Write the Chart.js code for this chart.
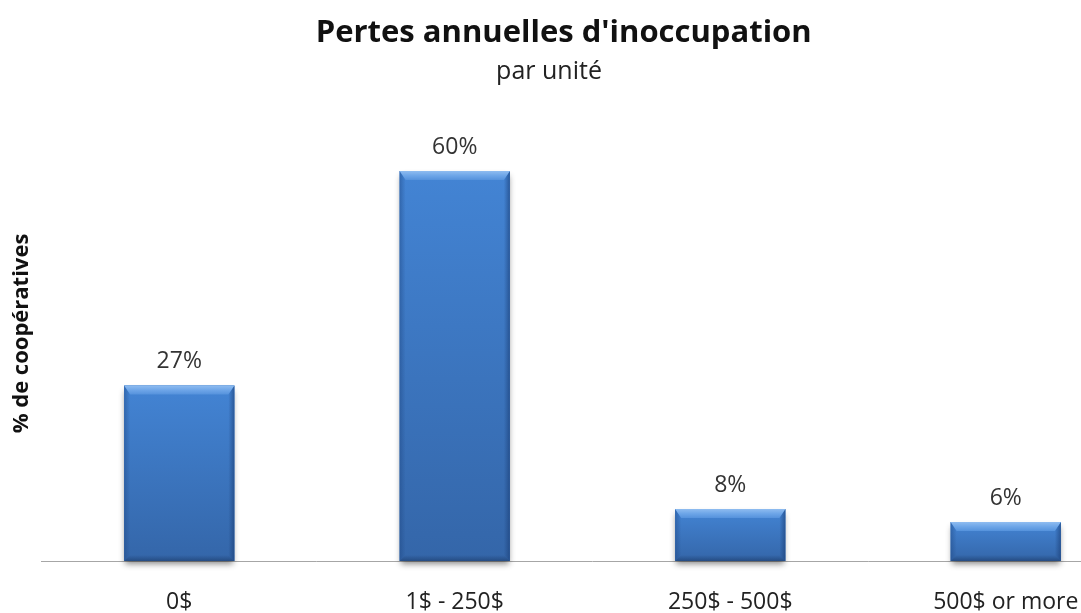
<!DOCTYPE html>
<html>
<head>
<meta charset="utf-8">
<script src="https://cdn.jsdelivr.net/npm/chart.js@4"></script>
<style>
  html, body { margin: 0; padding: 0; background: #ffffff; overflow: hidden; }
  #wrap { width: 1145px; height: 613px; position: relative; }
</style>
</head>
<body>
<div id="wrap"><canvas id="c"></canvas></div>
<script>
const categories = ["0$", "1$ - 250$", "250$ - 500$", "500$ or more"];
const values = [27, 60, 8, 6];
const titleText = "Pertes annuelles d'inoccupation  ";
const subtitleText = "par unité       ";
const yTitle = "% de coopératives";

const FONT = "'Open Sans', Lato, sans-serif";

function barBox(bar) {
  const w = bar.width;
  return { l: bar.x - w / 2, r: bar.x + w / 2, t: bar.y, b: bar.base };
}

const shadowPlugin = {
  id: 'barShadow',
  beforeDatasetsDraw(chart) {
    const ctx = chart.ctx;
    const meta = chart.getDatasetMeta(0);
    meta.data.forEach((bar) => {
      const { l, r, t, b } = barBox(bar);
      ctx.save();
      ctx.shadowColor = 'rgba(0,0,0,0.45)';
      ctx.shadowBlur = 6;
      ctx.shadowOffsetY = 3;
      ctx.fillStyle = '#3a70b8';
      ctx.fillRect(l + 1, t + 2, r - l - 2, b - t - 2);
      ctx.restore();
    });
  }
};

const bevelPlugin = {
  id: 'bevel',
  afterDatasetsDraw(chart) {
    const ctx = chart.ctx;
    const meta = chart.getDatasetMeta(0);
    meta.data.forEach((bar) => {
      const { l, r, t, b } = barBox(bar);
      const h = b - t;
      const bt = Math.min(9, h / 3), bs = 6, bb = 6;
      ctx.save();
      let g = ctx.createLinearGradient(0, t, 0, b);
      g.addColorStop(0, '#4384d4');
      g.addColorStop(1, '#3466a9');
      ctx.fillStyle = g;
      ctx.fillRect(l, t, r - l, h);
      g = ctx.createLinearGradient(l, 0, l + bs, 0);
      g.addColorStop(0, 'rgba(30,70,130,0.45)');
      g.addColorStop(1, 'rgba(30,70,130,0.0)');
      ctx.fillStyle = g;
      ctx.beginPath();
      ctx.moveTo(l, t); ctx.lineTo(l + bs, t + bt); ctx.lineTo(l + bs, b - bb); ctx.lineTo(l, b); ctx.closePath();
      ctx.fill();
      g = ctx.createLinearGradient(r, 0, r - bs, 0);
      g.addColorStop(0, 'rgba(25,60,115,0.6)');
      g.addColorStop(1, 'rgba(25,60,115,0.0)');
      ctx.fillStyle = g;
      ctx.beginPath();
      ctx.moveTo(r, t); ctx.lineTo(r - bs, t + bt); ctx.lineTo(r - bs, b - bb); ctx.lineTo(r, b); ctx.closePath();
      ctx.fill();
      g = ctx.createLinearGradient(0, b, 0, b - bb);
      g.addColorStop(0, 'rgba(25,55,100,0.55)');
      g.addColorStop(1, 'rgba(25,55,100,0.0)');
      ctx.fillStyle = g;
      ctx.beginPath();
      ctx.moveTo(l, b); ctx.lineTo(r, b); ctx.lineTo(r - bs, b - bb); ctx.lineTo(l + bs, b - bb); ctx.closePath();
      ctx.fill();
      g = ctx.createLinearGradient(0, t, 0, t + bt);
      g.addColorStop(0, '#8fbcf0');
      g.addColorStop(0.5, '#6ea6e8');
      g.addColorStop(1, '#5592dc');
      ctx.fillStyle = g;
      ctx.beginPath();
      ctx.moveTo(l, t); ctx.lineTo(r, t); ctx.lineTo(r - bs, t + bt); ctx.lineTo(l + bs, t + bt); ctx.closePath();
      ctx.fill();
      ctx.restore();
    });
  }
};

const labelPlugin = {
  id: 'valueLabels',
  afterDatasetsDraw(chart) {
    const ctx = chart.ctx;
    const meta = chart.getDatasetMeta(0);
    const data = chart.data.datasets[0].data;
    ctx.save();
    ctx.font = "23px " + FONT;
    ctx.fillStyle = '#333333';
    ctx.textAlign = 'center';
    ctx.textBaseline = 'middle';
    meta.data.forEach((bar, i) => {
      ctx.fillText(data[i] + '%', bar.x, bar.y - 24);
    });
    ctx.restore();
  }
};

new Chart(document.getElementById('c'), {
  type: 'bar',
  data: {
    labels: categories,
    datasets: [{
      data: values,
      backgroundColor: '#3d7ac6',
      borderWidth: 0,
      barPercentage: 0.4,
      categoryPercentage: 1.0
    }]
  },
  plugins: [shadowPlugin, bevelPlugin, labelPlugin],
  options: {
    responsive: true,
    maintainAspectRatio: false,
    animation: false,
    layout: { padding: { left: 0, right: 1.5, top: 0, bottom: 0 } },
    plugins: {
      legend: { display: false },
      tooltip: { enabled: false },
      title: {
        display: true,
        text: titleText,
        color: '#111111',
        font: { family: FONT, size: 31, weight: 'bold', lineHeight: 1.2 },
        padding: { top: 14.4, bottom: 5.4 }
      },
      subtitle: {
        display: true,
        text: subtitleText,
        color: '#222222',
        font: { family: FONT, size: 25, weight: 'normal', lineHeight: 1.2 },
        padding: { top: 0, bottom: 19 }
      }
    },
    scales: {
      x: {
        grid: { display: false, drawTicks: false },
        border: { display: true, color: '#a6a6a6', width: 1 },
        ticks: { color: '#222222', font: { family: FONT, size: 23 }, padding: 28, maxRotation: 0 },
        afterFit: (s) => { s.height = 52; }
      },
      y: {
        min: 0,
        max: 70,
        grid: { display: false, drawTicks: false },
        border: { display: false },
        ticks: { display: false },
        title: {
          display: true,
          text: yTitle,
          color: '#111111',
          font: { family: FONT, size: 22, weight: 'bold' },
          padding: { top: 9, bottom: 0 }
        },
        afterFit: (s) => { s.width = 41.5; }
      }
    }
  }
});
</script>
</body>
</html>
